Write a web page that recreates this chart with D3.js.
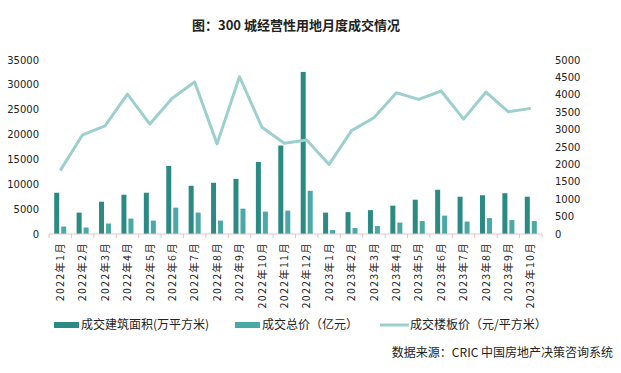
<!DOCTYPE html>
<html>
<head>
<meta charset="utf-8">
<script src="https://cdn.jsdelivr.net/npm/d3@7"></script>
<style>
  body { margin: 0; background: #fff; }
  text { font-family: "DejaVu Sans", "Noto Sans CJK SC", sans-serif; fill: #222; }
  .cjk { font-family: "Noto Sans CJK SC", sans-serif; }
</style>
</head>
<body>
<div id="chart"></div>
<script>
var months = ['2022年1月','2022年2月','2022年3月','2022年4月','2022年5月','2022年6月',
              '2022年7月','2022年8月','2022年9月','2022年10月','2022年11月','2022年12月',
              '2023年1月','2023年2月','2023年3月','2023年4月','2023年5月','2023年6月',
              '2023年7月','2023年8月','2023年9月','2023年10月'];

// 成交建筑面积(万平方米)
var area = [8300, 4300, 6500, 7900, 8300, 13700, 9700, 10300, 11100, 14500, 17800, 32600,
            4300, 4400, 4800, 5700, 6900, 8900, 7500, 7800, 8200, 7500];
// 成交总价（亿元）
var total = [1500, 1300, 2100, 3100, 2700, 5300, 4300, 2700, 5100, 4500, 4700, 8700,
             800, 1200, 1600, 2300, 2600, 3700, 2500, 3200, 2800, 2600];
// 成交楼板价（元/平方米）
var price = [1820, 2850, 3110, 4020, 3160, 3900, 4370, 2590, 4520, 3070, 2610, 2700,
             2000, 2970, 3340, 4060, 3870, 4110, 3300, 4080, 3510, 3610];

var leftTicks = [0, 5000, 10000, 15000, 20000, 25000, 30000, 35000],
    rightTicks = [0, 500, 1000, 1500, 2000, 2500, 3000, 3500, 4000, 4500, 5000];

var colors = ['#2b8a84', '#4aa8a6', '#9dcfcf'],
    legendNames = ['成交建筑面积(万平方米)', '成交总价（亿元）', '成交楼板价（元/平方米）'];

var width = 621, height = 373;
var plotLeft = 49, plotRight = 542, plotTop = 60, plotBottom = 234;

var svg = d3.select('#chart').append('svg')
  .attr('width', width)
  .attr('height', height);

// title
svg.append('text')
  .attr('class', 'cjk')
  .attr('x', 296).attr('y', 30)
  .attr('text-anchor', 'middle')
  .style('font-size', '13px')
  .style('font-weight', 'bold')
  .text('图：300 城经营性用地月度成交情况');

var x = d3.scaleBand().domain(months).range([plotLeft, plotRight]);
var yL = d3.scaleLinear().domain([0, 35000]).range([plotBottom, plotTop]);
var yR = d3.scaleLinear().domain([0, 5000]).range([plotBottom, plotTop]);

var barW = 5, gap = 2;

// bars
svg.append('g').selectAll('rect')
  .data(area).enter().append('rect')
  .attr('x', function(d, i) { return x(months[i]) + x.bandwidth() / 2 - barW - gap / 2; })
  .attr('y', function(d) { return yL(d); })
  .attr('width', barW)
  .attr('height', function(d) { return plotBottom - yL(d); })
  .style('fill', colors[0]);

svg.append('g').selectAll('rect')
  .data(total).enter().append('rect')
  .attr('x', function(d, i) { return x(months[i]) + x.bandwidth() / 2 + gap / 2; })
  .attr('y', function(d) { return yL(d); })
  .attr('width', barW)
  .attr('height', function(d) { return plotBottom - yL(d); })
  .style('fill', colors[1]);

// line
var line = d3.line()
  .x(function(d, i) { return x(months[i]) + x.bandwidth() / 2; })
  .y(function(d) { return yR(d); });

svg.append('path')
  .datum(price)
  .attr('d', line)
  .style('fill', 'none')
  .style('stroke', colors[2])
  .style('stroke-width', 3)
  .style('stroke-linejoin', 'round');

// x axis
var xAxis = svg.append('g').attr('transform', 'translate(0,' + plotBottom + ')');
xAxis.append('line')
  .attr('x1', plotLeft).attr('x2', plotRight)
  .style('stroke', '#dcc8c8');
xAxis.selectAll('line.tick')
  .data(months.concat(['end'])).enter().append('line')
  .attr('class', 'tick')
  .attr('x1', function(d, i) { return plotLeft + i * x.bandwidth(); })
  .attr('x2', function(d, i) { return plotLeft + i * x.bandwidth(); })
  .attr('y1', 0).attr('y2', 4)
  .style('stroke', '#dcc8c8');
xAxis.selectAll('text')
  .data(months).enter().append('text')
  .attr('class', 'cjk')
  .attr('text-anchor', 'end')
  .attr('dy', '0.35em')
  .attr('transform', function(d) {
    return 'translate(' + (x(d) + x.bandwidth() / 2) + ',8) rotate(-90)';
  })
  .style('font-size', '10.5px')
  .style('letter-spacing', '1.3px')
  .text(function(d) { return d; });

// y axes (labels only)
svg.append('g').selectAll('text')
  .data(leftTicks).enter().append('text')
  .attr('x', 39).attr('y', function(d) { return yL(d); })
  .attr('dy', '0.35em')
  .attr('text-anchor', 'end')
  .style('font-size', '10px')
  .text(function(d) { return d; });

svg.append('g').selectAll('text')
  .data(rightTicks).enter().append('text')
  .attr('x', 555).attr('y', function(d) { return yR(d); })
  .attr('dy', '0.35em')
  .style('font-size', '10px')
  .text(function(d) { return d; });

// legend
var legendX = [54, 235, 380];
var lg = svg.append('g').selectAll('g')
  .data(legendNames).enter().append('g')
  .attr('transform', function(d, i) { return 'translate(' + legendX[i] + ',325)'; });
lg.append('rect')
  .attr('x', 0)
  .attr('y', function(d, i) { return i < 2 ? -3 : -1.5; })
  .attr('width', function(d, i) { return i < 2 ? 25 : 29; })
  .attr('height', function(d, i) { return i < 2 ? 6 : 3; })
  .style('fill', function(d, i) { return colors[i]; });
lg.append('text')
  .attr('class', 'cjk')
  .attr('x', function(d, i) { return i < 2 ? 27 : 30; })
  .attr('dy', '0.35em')
  .style('font-size', '12px')
  .text(function(d) { return d; });

// source
svg.append('text')
  .attr('class', 'cjk')
  .attr('x', 613).attr('y', 357)
  .attr('text-anchor', 'end')
  .style('font-size', '12px')
  .text('数据来源：CRIC 中国房地产决策咨询系统');
</script>
</body>
</html>
